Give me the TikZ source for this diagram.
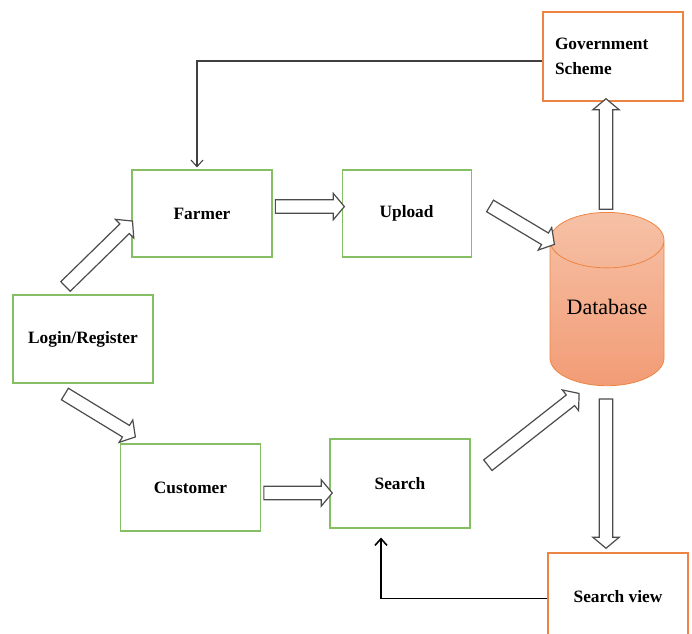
\documentclass[tikz,border=0pt]{standalone}
\usepackage{fontspec}
\setmainfont{Liberation Serif}
\usetikzlibrary{arrows.meta, positioning, shapes.geometric, shapes.arrows, calc}
\definecolor{boxgreen}{HTML}{86BF63}
\definecolor{boxorange}{HTML}{EE8443}
\definecolor{dbtop}{HTML}{F6C1A6}
\definecolor{dbbottom}{HTML}{F29C76}
\tikzset{
  stepbox/.style={
    rectangle,
    draw=boxgreen,
    line width=0.8pt,
    minimum width=105pt,
    minimum height=65.25pt,
    align=center,
    font=\bfseries\fontsize{13}{15}\selectfont
  },
  viewbox/.style={
    stepbox,
    draw=boxorange
  },
  dbstore/.style={
    cylinder,
    shape border rotate=90,
    aspect=0.62,
    draw=boxorange,
    line width=0.6pt,
    top color=dbtop,
    bottom color=dbbottom,
    minimum width=85.5pt,
    minimum height=130pt,
    font=\fontsize{16.5}{20}\selectfont
  },
  hollowarrow/.style={
    single arrow,
    draw=black!70,
    fill=white,
    line width=0.9pt,
    inner sep=0pt,
    inner ysep=4.6pt,
    minimum width=0pt,
    single arrow head extend=4.8pt,
    single arrow tip angle=100
  },
  linkarrow/.style={-{Straight Barb[length=5pt, width=9pt]}, draw=black!75, line width=0.8pt},
  backarrow/.style={-{Straight Barb[length=5pt, width=9pt]}, draw=black, line width=1.2pt}
}
% wide outlined arrow from #1 to #2
\newcommand\hollowlink[2]{%
  \path let \p1=(#1), \p2=(#2),
    \n1={atan2(\y2-\y1,\x2-\x1)}, \n2={veclen(\x2-\x1,\y2-\y1)} in
    node[hollowarrow, rotate=\n1, minimum height=\n2] at ($(\p1)!0.5!(\p2)$) {};}

\begin{document}
\begin{tikzpicture}[x=0.75pt, y=-0.75pt]
  \useasboundingbox (0,0) rectangle (692,634);
  \clip (0,0) rectangle (692,634);

  \node[stepbox] (farmer) at (202,213.5) {\raisebox{-2pt}{Farmer}};
  \node[stepbox, minimum width=96.75pt, right=51.75pt of farmer] (upload) {\raisebox{-2pt}{Upload}};
  \node[stepbox, minimum height=66pt] (login) at (83,339) {\raisebox{-2pt}{Login/Register}};
  \node[stepbox] (customer) at (190.5,487.5) {\raisebox{-2pt}{Customer}};
  \node[stepbox, minimum height=66.75pt] (search) at (400,483.5) {Search};
  \node[dbstore, anchor=north] (db) at (607,212) {\raisebox{17pt}{Database}};
  \node[viewbox, minimum height=66.75pt, text width=87pt, align=left,
        font=\bfseries\fontsize{13}{19}\selectfont] (gov) at (613,56.5) {Government\\Scheme};
  \node[viewbox] (view) at (618,596.5) {Search view};

  % block arrows
  \hollowlink{[shift={(51,-6)}]login.north west}{[shift={(-1,9.5)}]farmer.west}
  \hollowlink{[shift={(50,9)}]login.south west}{[shift={(13,-8)}]customer.north west}
  \hollowlink{[yshift=5.2pt]farmer.east}{[yshift=5.2pt]upload.west}
  \hollowlink{[shift={(16,-9)}]upload.east}{[shift={(-55,31)}]db.north}
  \hollowlink{[yshift=-4.1pt]customer.east}{[yshift=-7.1pt]search.west}
  \hollowlink{[shift={(15,-16.5)}]search.east}{[shift={(-30,9)}]db.south}
  \hollowlink{[xshift=-0.75pt]db.north}{[xshift=-0.75pt]db.north |- gov.south}
  \hollowlink{[shift={(-1,10)}]db.south}{[shift={(-12,-7)}]view.north}

  % plain connectors
  \draw[linkarrow] ([yshift=-3.4pt]gov.west) -| ([shift={(-5,-2)}]farmer.north);
  \draw[backarrow] ([yshift=-1.5pt]view.west) -| ([shift={(-19,9)}]search.south);
\end{tikzpicture}
\end{document}
